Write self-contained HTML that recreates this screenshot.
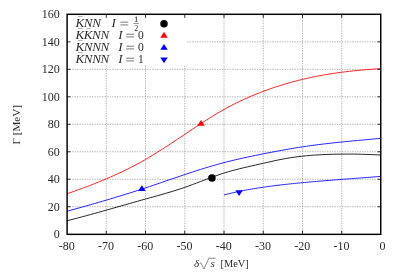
<!DOCTYPE html>
<html><head><meta charset="utf-8"><style>
html,body{margin:0;padding:0;background:#fff;}
svg{display:block}
text{font-family:"Liberation Serif",serif;font-size:12px;fill:#2a2a2a}
</style></head><body>
<svg width="399" height="273" viewBox="0 0 399 273">
<rect width="399" height="273" fill="#fff"/>
<g stroke="#959595" stroke-width="0.7" stroke-dasharray="1.4,1.1"><line x1="106.25" y1="234.2" x2="106.25" y2="14.4"/><line x1="145.50" y1="234.2" x2="145.50" y2="14.4"/><line x1="184.75" y1="234.2" x2="184.75" y2="14.4"/><line x1="224.00" y1="234.2" x2="224.00" y2="14.4"/><line x1="263.25" y1="234.2" x2="263.25" y2="14.4"/><line x1="302.50" y1="234.2" x2="302.50" y2="14.4"/><line x1="341.75" y1="234.2" x2="341.75" y2="14.4"/><line x1="67.0" y1="206.72" x2="381.0" y2="206.72"/><line x1="67.0" y1="179.25" x2="381.0" y2="179.25"/><line x1="67.0" y1="151.77" x2="381.0" y2="151.77"/><line x1="67.0" y1="124.30" x2="381.0" y2="124.30"/><line x1="67.0" y1="96.82" x2="381.0" y2="96.82"/><line x1="67.0" y1="69.35" x2="381.0" y2="69.35"/><line x1="67.0" y1="41.88" x2="381.0" y2="41.88"/></g>
<rect x="67" y="14.4" width="119.3" height="51" fill="#fff"/>
<path d="M67.00,193.81 L70.92,192.42 L74.85,191.01 L78.78,189.59 L82.70,188.14 L86.62,186.67 L90.55,185.18 L94.47,183.65 L98.40,182.08 L102.33,180.48 L106.25,178.84 L110.18,177.15 L114.10,175.42 L118.03,173.63 L121.95,171.80 L125.88,169.90 L129.80,167.95 L133.72,165.93 L137.65,163.85 L141.57,161.69 L145.50,159.47 L149.43,157.17 L153.35,154.80 L157.27,152.37 L161.20,149.89 L165.12,147.36 L169.05,144.80 L172.98,142.21 L176.90,139.59 L180.82,136.96 L184.75,134.33 L188.68,131.70 L192.60,129.07 L196.53,126.47 L200.45,123.89 L204.38,121.35 L208.30,118.85 L212.22,116.41 L216.15,114.02 L220.07,111.70 L224.00,109.46 L227.92,107.31 L231.85,105.24 L235.78,103.24 L239.70,101.33 L243.62,99.49 L247.55,97.72 L251.47,96.03 L255.40,94.40 L259.33,92.83 L263.25,91.33 L267.17,89.89 L271.10,88.50 L275.02,87.17 L278.95,85.90 L282.88,84.68 L286.80,83.52 L290.73,82.41 L294.65,81.35 L298.58,80.34 L302.50,79.38 L306.42,78.47 L310.35,77.60 L314.27,76.78 L318.20,76.01 L322.12,75.28 L326.05,74.59 L329.98,73.95 L333.90,73.34 L337.82,72.77 L341.75,72.23 L345.68,71.74 L349.60,71.28 L353.52,70.85 L357.45,70.45 L361.38,70.08 L365.30,69.74 L369.23,69.44 L373.15,69.15 L377.07,68.90 L381.00,68.66" fill="none" stroke="#ff0000" stroke-width="0.85"/><path d="M67.00,211.26 L70.92,210.18 L74.85,209.09 L78.78,208.00 L82.70,206.90 L86.62,205.79 L90.55,204.68 L94.47,203.56 L98.40,202.42 L102.33,201.28 L106.25,200.13 L110.18,198.97 L114.10,197.79 L118.03,196.61 L121.95,195.41 L125.88,194.20 L129.80,192.97 L133.72,191.73 L137.65,190.47 L141.57,189.19 L145.50,187.90 L149.43,186.60 L153.35,185.28 L157.27,183.94 L161.20,182.60 L165.12,181.26 L169.05,179.91 L172.98,178.57 L176.90,177.23 L180.82,175.90 L184.75,174.58 L188.68,173.27 L192.60,171.99 L196.53,170.72 L200.45,169.47 L204.38,168.25 L208.30,167.06 L212.22,165.90 L216.15,164.77 L220.07,163.68 L224.00,162.63 L227.92,161.61 L231.85,160.64 L235.78,159.70 L239.70,158.79 L243.62,157.91 L247.55,157.06 L251.47,156.23 L255.40,155.42 L259.33,154.62 L263.25,153.84 L267.17,153.06 L271.10,152.30 L275.02,151.55 L278.95,150.82 L282.88,150.10 L286.80,149.40 L290.73,148.72 L294.65,148.07 L298.58,147.44 L302.50,146.83 L306.42,146.25 L310.35,145.70 L314.27,145.17 L318.20,144.67 L322.12,144.18 L326.05,143.72 L329.98,143.27 L333.90,142.84 L337.82,142.42 L341.75,142.02 L345.68,141.63 L349.60,141.25 L353.52,140.87 L357.45,140.50 L361.38,140.13 L365.30,139.77 L369.23,139.41 L373.15,139.05 L377.07,138.68 L381.00,138.31" fill="none" stroke="#0000ff" stroke-width="0.85"/><path d="M67.00,220.74 L70.92,219.75 L74.85,218.74 L78.78,217.71 L82.70,216.66 L86.62,215.61 L90.55,214.54 L94.47,213.46 L98.40,212.37 L102.33,211.27 L106.25,210.16 L110.18,209.05 L114.10,207.93 L118.03,206.81 L121.95,205.69 L125.88,204.57 L129.80,203.46 L133.72,202.34 L137.65,201.23 L141.57,200.13 L145.50,199.03 L149.43,197.94 L153.35,196.86 L157.27,195.76 L161.20,194.66 L165.12,193.53 L169.05,192.38 L172.98,191.19 L176.90,189.97 L180.82,188.69 L184.75,187.36 L188.68,185.96 L192.60,184.52 L196.53,183.05 L200.45,181.55 L204.38,180.06 L208.30,178.57 L212.22,177.12 L216.15,175.71 L220.07,174.35 L224.00,173.07 L227.92,171.87 L231.85,170.75 L235.78,169.69 L239.70,168.70 L243.62,167.75 L247.55,166.83 L251.47,165.94 L255.40,165.06 L259.33,164.19 L263.25,163.31 L267.17,162.42 L271.10,161.54 L275.02,160.67 L278.95,159.83 L282.88,159.06 L286.80,158.35 L290.73,157.71 L294.65,157.14 L298.58,156.62 L302.50,156.17 L306.42,155.77 L310.35,155.43 L314.27,155.13 L318.20,154.87 L322.12,154.66 L326.05,154.48 L329.98,154.34 L333.90,154.24 L337.82,154.16 L341.75,154.11 L345.68,154.09 L349.60,154.09 L353.52,154.11 L357.45,154.17 L361.38,154.25 L365.30,154.36 L369.23,154.49 L373.15,154.66 L377.07,154.85 L381.00,155.07" fill="none" stroke="#000000" stroke-width="0.85"/><path d="M224.00,194.91 L225.96,194.42 L227.92,193.94 L229.89,193.47 L231.85,193.02 L233.81,192.57 L235.78,192.14 L237.74,191.72 L239.70,191.32 L241.66,190.92 L243.62,190.53 L245.59,190.16 L247.55,189.79 L249.51,189.44 L251.47,189.10 L253.44,188.76 L255.40,188.43 L257.36,188.12 L259.33,187.81 L261.29,187.51 L263.25,187.22 L265.21,186.93 L267.17,186.66 L269.14,186.39 L271.10,186.13 L273.06,185.87 L275.02,185.62 L276.99,185.38 L278.95,185.15 L280.91,184.92 L282.88,184.69 L284.84,184.47 L286.80,184.26 L288.76,184.05 L290.73,183.84 L292.69,183.64 L294.65,183.44 L296.61,183.25 L298.58,183.06 L300.54,182.87 L302.50,182.68 L304.46,182.50 L306.42,182.32 L308.39,182.14 L310.35,181.97 L312.31,181.79 L314.27,181.62 L316.24,181.45 L318.20,181.29 L320.16,181.12 L322.12,180.96 L324.09,180.79 L326.05,180.63 L328.01,180.47 L329.98,180.31 L331.94,180.16 L333.90,180.00 L335.86,179.85 L337.82,179.69 L339.79,179.54 L341.75,179.39 L343.71,179.24 L345.68,179.08 L347.64,178.93 L349.60,178.78 L351.56,178.63 L353.52,178.48 L355.49,178.34 L357.45,178.19 L359.41,178.04 L361.38,177.89 L363.34,177.74 L365.30,177.59 L367.26,177.44 L369.23,177.29 L371.19,177.13 L373.15,176.98 L375.11,176.83 L377.07,176.68 L379.04,176.52 L381.00,176.37" fill="none" stroke="#0000ff" stroke-width="0.85"/>
<circle cx="211.91" cy="178.0" r="3.75" fill="#000"/><polygon points="197.30,125.81 204.80,125.81 201.05,120.01" fill="#ff0000"/><polygon points="138.15,191.10 145.65,191.10 141.90,185.30" fill="#0000ff"/><polygon points="235.35,190.15 242.85,190.15 239.10,195.95" fill="#0000ff"/><circle cx="164.0" cy="23.75" r="3.75" fill="#000"/><polygon points="160.25,37.65 167.75,37.65 164.00,31.85" fill="#ff0000"/><polygon points="160.25,49.70 167.75,49.70 164.00,43.90" fill="#0000ff"/><polygon points="160.25,57.50 167.75,57.50 164.00,63.30" fill="#0000ff"/>
<g stroke="#000" stroke-width="0.8"><line x1="106.25" y1="234.2" x2="106.25" y2="230.7"/><line x1="106.25" y1="14.4" x2="106.25" y2="17.9"/><line x1="67.0" y1="206.72" x2="70.5" y2="206.72"/><line x1="381.0" y1="206.72" x2="377.5" y2="206.72"/><line x1="145.50" y1="234.2" x2="145.50" y2="230.7"/><line x1="145.50" y1="14.4" x2="145.50" y2="17.9"/><line x1="67.0" y1="179.25" x2="70.5" y2="179.25"/><line x1="381.0" y1="179.25" x2="377.5" y2="179.25"/><line x1="184.75" y1="234.2" x2="184.75" y2="230.7"/><line x1="184.75" y1="14.4" x2="184.75" y2="17.9"/><line x1="67.0" y1="151.77" x2="70.5" y2="151.77"/><line x1="381.0" y1="151.77" x2="377.5" y2="151.77"/><line x1="224.00" y1="234.2" x2="224.00" y2="230.7"/><line x1="224.00" y1="14.4" x2="224.00" y2="17.9"/><line x1="67.0" y1="124.30" x2="70.5" y2="124.30"/><line x1="381.0" y1="124.30" x2="377.5" y2="124.30"/><line x1="263.25" y1="234.2" x2="263.25" y2="230.7"/><line x1="263.25" y1="14.4" x2="263.25" y2="17.9"/><line x1="67.0" y1="96.82" x2="70.5" y2="96.82"/><line x1="381.0" y1="96.82" x2="377.5" y2="96.82"/><line x1="302.50" y1="234.2" x2="302.50" y2="230.7"/><line x1="302.50" y1="14.4" x2="302.50" y2="17.9"/><line x1="67.0" y1="69.35" x2="70.5" y2="69.35"/><line x1="381.0" y1="69.35" x2="377.5" y2="69.35"/><line x1="341.75" y1="234.2" x2="341.75" y2="230.7"/><line x1="341.75" y1="14.4" x2="341.75" y2="17.9"/><line x1="67.0" y1="41.88" x2="70.5" y2="41.88"/><line x1="381.0" y1="41.88" x2="377.5" y2="41.88"/></g>
<rect x="67.1" y="14.3" width="313.65" height="220.05" fill="none" stroke="#000" stroke-width="1.45"/>
<g style="filter:grayscale(1)"><text x="59.7" y="238.20" text-anchor="end">0</text><text x="66.85" y="250.3" text-anchor="middle">-80</text><text x="59.7" y="210.72" text-anchor="end">20</text><text x="106.10" y="250.3" text-anchor="middle">-70</text><text x="59.7" y="183.25" text-anchor="end">40</text><text x="145.35" y="250.3" text-anchor="middle">-60</text><text x="59.7" y="155.77" text-anchor="end">60</text><text x="184.60" y="250.3" text-anchor="middle">-50</text><text x="59.7" y="128.30" text-anchor="end">80</text><text x="223.85" y="250.3" text-anchor="middle">-40</text><text x="59.7" y="100.82" text-anchor="end">100</text><text x="263.10" y="250.3" text-anchor="middle">-30</text><text x="59.7" y="73.35" text-anchor="end">120</text><text x="302.35" y="250.3" text-anchor="middle">-20</text><text x="59.7" y="45.88" text-anchor="end">140</text><text x="341.60" y="250.3" text-anchor="middle">-10</text><text x="59.7" y="18.40" text-anchor="end">160</text><text x="382.60" y="250.3" text-anchor="middle">0</text>
<text transform="scale(1.1,1)" font-style="italic" style="font-size:11.9px" x="68.64 76.18 83.82" y="26.9">KNN</text><text transform="scale(1.1,1)" font-style="italic" style="font-size:11.9px" x="101.45" y="26.9">I</text><g stroke="#222" stroke-width="0.6"><line x1="120.3" y1="22.20" x2="128.1" y2="22.20"/><line x1="120.3" y1="24.90" x2="128.1" y2="24.90"/></g><g stroke="#444" stroke-width="0.45"><line x1="78.10" y1="16.60" x2="82.40" y2="16.60"/></g><g stroke="#222" fill="none"><path d="M136.4,16.7 V21.6" stroke-width="0.8"/><path d="M135.0,17.7 L136.4,16.9 M135.1,21.5 H137.7" stroke-width="0.45"/></g><text style="font-size:8px" x="134.3" y="30.8">2</text><line x1="133.7" y1="23.4" x2="138.7" y2="23.4" stroke="#222" stroke-width="0.55"/><text transform="scale(1.1,1)" font-style="italic" style="font-size:11.9px" x="68.64 76.09 83.64 91.27" y="38.9">KKNN</text><text transform="scale(1.1,1)" font-style="italic" style="font-size:11.9px" x="107.45" y="38.9">I</text><g stroke="#222" stroke-width="0.6"><line x1="126.2" y1="34.20" x2="134.0" y2="34.20"/><line x1="126.2" y1="36.90" x2="134.0" y2="36.90"/></g><text style="font-size:11.5px" x="138.00" y="38.9">0</text><g stroke="#444" stroke-width="0.45"><line x1="78.10" y1="28.60" x2="82.40" y2="28.60"/><line x1="86.30" y1="28.60" x2="90.60" y2="28.60"/></g><text transform="scale(1.1,1)" font-style="italic" style="font-size:11.9px" x="68.64 76.18 83.82 91.45" y="50.9">KNNN</text><text transform="scale(1.1,1)" font-style="italic" style="font-size:11.9px" x="107.45" y="50.9">I</text><g stroke="#222" stroke-width="0.6"><line x1="126.2" y1="46.20" x2="134.0" y2="46.20"/><line x1="126.2" y1="48.90" x2="134.0" y2="48.90"/></g><text style="font-size:11.5px" x="138.00" y="50.9">0</text><g stroke="#444" stroke-width="0.45"><line x1="78.10" y1="40.60" x2="82.40" y2="40.60"/></g><text transform="scale(1.1,1)" font-style="italic" style="font-size:11.9px" x="68.64 76.18 83.82 91.45" y="62.9">KNNN</text><text transform="scale(1.1,1)" font-style="italic" style="font-size:11.9px" x="107.45" y="62.9">I</text><g stroke="#222" stroke-width="0.6"><line x1="126.2" y1="58.20" x2="134.0" y2="58.20"/><line x1="126.2" y1="60.90" x2="134.0" y2="60.90"/></g><text style="font-size:11.5px" x="138.00" y="62.9">1</text><g stroke="#444" stroke-width="0.45"><line x1="78.10" y1="52.60" x2="82.40" y2="52.60"/></g>
<text transform="translate(19.8,144.6) rotate(-90)" style="font-size:11px" textLength="39.7" lengthAdjust="spacingAndGlyphs">Γ [MeV]</text>
<text x="194.0" y="267" font-style="italic" style="font-size:11px">δ</text>
<path d="M199.6,263.6 L200.9,262.9 L204.0,269.0 L208.9,258.2 L215.6,258.2" fill="none" stroke="#222" stroke-width="0.55"/>
<text x="210.4" y="267" font-style="italic" style="font-size:11px">s</text>
<text x="220.5" y="267" style="font-size:11px" textLength="28.2" lengthAdjust="spacingAndGlyphs">[MeV]</text></g>
</svg>
</body></html>
